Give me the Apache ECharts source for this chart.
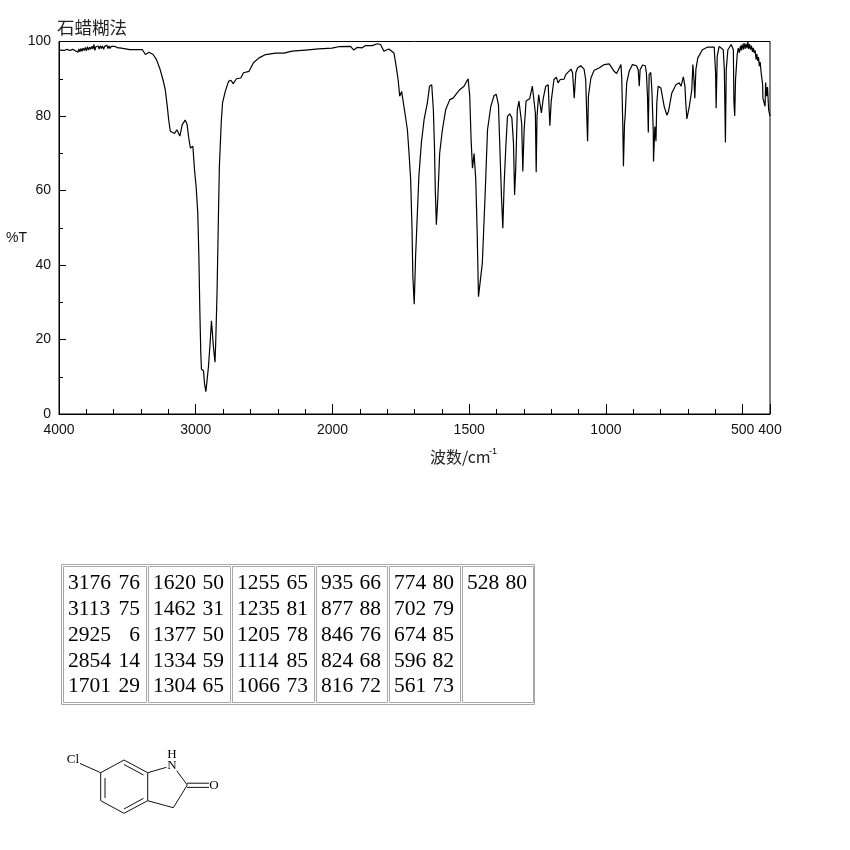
<!DOCTYPE html>
<html>
<head>
<meta charset="utf-8">
<style>html,body{margin:0;padding:0;background:#fff}#c{width:850px;height:850px}</style>
<script src="https://cdn.jsdelivr.net/npm/echarts@6/dist/echarts.min.js"></script>
</head>
<body>
<div id="c"></div>
<script>
// wavenumbers (cm-1)
const wavenumbers = [4000,3960,3942,3920,3900,3880,3870,3862,3855,3848,3840,3832,3824,3816,3808,3800,3792,3784,3776,3768,3760,3752,3744,3738,3730,3722,3714,3706,3698,3690,3682,3674,3666,3658,3650,3642,3634,3626,3618,3610,3602,3594,3586,3570,3555,3482,3390,3368,3341,3312,3288,3264,3240,3223,3208,3198,3186,3172,3155,3138,3116,3099,3077,3063,3051,3039,3021,3009,2997,2985,2977,2970,2963,2958,2943,2936,2926,2917,2907,2895,2885,2878,2871,2859,2854,2844,2834,2827,2813,2804,2784,2760,2743,2726,2702,2670,2651,2610,2578,2537,2489,2416,2355,2295,2198,2101,2004,1977,1934,1922,1910,1891,1879,1855,1836,1824,1812,1794,1775,1767,1760,1754,1747,1741,1735,1726,1720,1714,1709,1706,1701,1696,1691,1684,1675,1665,1653,1645,1637,1631,1627,1624,1620,1615,1608,1598,1586,1571,1559,1537,1519,1504,1498,1493,1488,1482,1476,1471,1466,1460,1452,1442,1433,1421,1409,1401,1393,1386,1382,1377,1372,1366,1360,1352,1344,1338,1334,1330,1324,1318,1311,1308,1304,1299,1292,1279,1269,1263,1258,1255,1252,1246,1241,1236,1229,1220,1211,1208,1205,1200,1190,1181,1175,1167,1153,1147,1128,1122,1116,1110,1104,1092,1080,1074,1070,1067,1064,1055,1043,1025,1006,988,970,964,961,945,942,938,936,932,930,924,915,903,888,882,878,875,866,856,852,848,845,842,836,832,827,826,821,817,814,809,799,787,777,771,759,744,732,725,717,711,708,704,695,686,682,678,675,671,664,647,628,604,599,597,593,586,580,571,567,563,560,554,542,534,532,529,526,520,516,512,508,505,502,498,495,491,488,484,481,478,475,471,468,464,461,457,454,451,448,445,442,439,436,433,430,427,426,421,418,416,412,409,405,400];
// percent transmittance at each wavenumber
const transmittance = [97.7,97.6,97.9,97.6,97.9,97.5,97.8,97.1,98,97.2,98.1,97.4,98.2,97.6,98.4,97.5,98.6,97.7,98.5,97.9,98.7,98,99.2,97.6,98.6,98.2,98.8,98,98.9,98.1,98.8,97.9,98.7,98.2,99,98.1,98.8,98.1,98.7,98.2,98.7,98.3,98.6,98.3,98.3,97.8,97.8,96.5,97.1,96.5,95.2,92.9,89.8,87.1,82.6,79,75.9,76.2,75.3,76.3,74.6,77.7,78.9,77.7,74.1,71.4,71.9,65.6,61,53.9,42.3,27.9,16.3,12,11.6,8.2,6,9.1,12.7,19,25,21.7,18.1,13.9,19,32.9,53,66.5,78.6,83.5,86.6,89.3,89.6,88.7,90,90.2,91.6,92,94.3,95.6,96.5,96.9,96.9,97.4,97.7,98,98.2,98.6,98.7,97.7,98.4,98.3,98.9,98.9,99.4,99.2,97.4,98,96.9,93.3,89.8,85.3,86.6,86.2,80.8,76.3,70,62.9,49.4,36.9,29.5,42.3,51.2,63.8,72.7,79,83.5,88,88.4,81.7,71.8,60.2,50.8,57.5,70,76.3,81.7,84.4,84.8,86.9,88,90,85.3,73.6,66,69.9,62.9,49.4,31.5,31,40.5,58.4,76.3,82.6,85.5,85.8,83,67.4,58.4,49.9,62,71.8,79.9,80.6,79.5,72.7,58.8,65.6,81.7,84,84,78,65.1,76.3,84,84.6,88,88.4,80.8,64.9,79.9,85.7,85.3,80.8,84.8,88,88.4,82.6,77.4,84,89.8,90.4,88.9,89.8,89.9,91.1,92.6,91.6,84.8,91.6,92.9,93.5,92.6,89.8,79.9,73.2,85.3,90.2,92.3,92.9,93.8,94,92,91.6,91.4,93.8,89.8,76.3,66.5,78,79.7,88.9,92,93.8,93.5,92.4,88,92.4,93.7,93.5,91.6,85.3,75.6,91.1,91.7,87,76.3,67.8,77.2,73.2,83.5,88,87.5,82.6,80.2,81.3,86.2,88.4,88.9,88,90.5,88,83.5,79.2,82.6,87,93.8,89.8,84.8,92.5,95.6,97.8,98.5,98.5,91.6,82.1,96,98.7,99.2,97.8,92.5,72.9,92.5,97.8,99.2,97.8,84,80,89.8,96.5,98.2,97,98.8,97.6,99.2,97.8,99.6,98,99.4,98.2,99.9,98,99.3,97.8,98.9,97.2,98.3,96.9,97.6,95.2,96.6,94.8,95.8,93.4,94.5,92,91.5,88.5,84.8,84.8,82.6,89,85.3,87.8,81.7,80];
// axis tick labels
const xTickLabels = {0:'4000',1000:'3000',2000:'2000',3000:'1500',4000:'1000',5000:'500',5200:'400'};
const yTicks = [0,20,40,60,80,100];
// peak table: each column is [wavenumber, %T] rows
const peakCol1 = [['3176','76'],['3113','75'],['2925','6'],['2854','14'],['1701','29']];
const peakCol2 = [['1620','50'],['1462','31'],['1377','50'],['1334','59'],['1304','65']];
const peakCol3 = [['1255','65'],['1235','81'],['1205','78'],['1114','85'],['1066','73']];
const peakCol4 = [['935','66'],['877','88'],['846','76'],['824','68'],['816','72']];
const peakCol5 = [['774','80'],['702','79'],['674','85'],['596','82'],['561','73']];
const peakCol6 = [['528','80']];

// The instrument's x axis doubles its scale below 2000 cm-1
const toAxis = w => w >= 2000 ? 4000 - w : 2000 + (2000 - w) * 2;

const black = '#000';
const tableGray = '#a8a8a8';
const cols = [
  {rows:peakCol1,x0:63,x1:146},
  {rows:peakCol2,x0:148,x1:230},
  {rows:peakCol3,x0:232,x1:314},
  {rows:peakCol4,x0:316,x1:387},
  {rows:peakCol5,x0:389,x1:460},
  {rows:peakCol6,x0:462,x1:533}
];
const rowCenters = [583,609,635,661,686];
const g = [];
const line = (x1,y1,x2,y2,w) => g.push({type:'line',silent:true,shape:{x1,y1,x2,y2},style:{stroke:'#111',lineWidth:w||1}});
const txt = (x,y,t,o) => g.push({type:'text',silent:true,x,y,style:Object.assign({text:t,fill:'#000',verticalAlign:'middle'},o)});

// table
g.push({type:'rect',silent:true,shape:{x:61.5,y:564.5,width:473,height:140},style:{fill:'#fff',stroke:tableGray,lineWidth:1}});
cols.forEach(c=>{
  g.push({type:'rect',silent:true,shape:{x:c.x0+.5,y:566.5,width:c.x1-c.x0,height:136},style:{fill:'#fff',stroke:tableGray,lineWidth:1}});
  c.rows.forEach((r,i)=>{
    txt(c.x0+5,rowCenters[i],r[0],{font:'21.5px "Liberation Serif"',align:'left'});
    txt(c.x1-6,rowCenters[i],r[1],{font:'21.5px "Liberation Serif"',align:'right'});
  });
});
// molecule
const a={l1:[100.7,772.7],t:[124,760],r1:[147.7,772.7],r2:[147.7,800.7],b:[124,813.3],l2:[100.7,800.7]};
[[a.l1,a.t],[a.t,a.r1],[a.r1,a.r2],[a.r2,a.b],[a.b,a.l2],[a.l2,a.l1]].forEach(p=>line(p[0][0],p[0][1],p[1][0],p[1][1]));
line(105,778,105,798);line(124,764.5,143.5,775);line(124,809,143.5,798.3);
line(80,763.5,100.7,772.7);
line(147.7,772.7,166.5,767.3);line(176.7,770.7,187.3,785);line(187.3,785,173.3,807.7);line(173.3,807.7,147.7,800.7);
line(187,783.2,209,783.2);line(187,787.4,209,787.4);
const atom='13px "Liberation Serif"';
txt(73,759.5,'Cl',{font:atom,align:'center'});
txt(172,765.5,'N',{font:atom,align:'center'});
txt(172,755,'H',{font:atom,align:'center'});
txt(214,786,'O',{font:atom,align:'center'});
// titles
const cjk='"Noto Sans CJK SC"';
const sans='"Liberation Sans"';
txt(57,27,'石蜡糊法',{font:'17.5px '+cjk,align:'left',fill:'#222'});
txt(430,457,'波数/cm',{font:'16px '+cjk,align:'left',fill:'#222'});
txt(489,452,'-1',{font:'9px '+sans,align:'left'});
txt(6,238,'%T',{font:'14px '+sans,align:'left',fill:'#111'});

const chart = echarts.init(document.getElementById('c'),null,{renderer:'canvas'});
chart.setOption({
  animation:false,
  backgroundColor:'#fff',
  grid:{left:59,top:41.5,width:711,height:372.5,show:true,borderColor:black,borderWidth:1,backgroundColor:'transparent',containLabel:false},
  xAxis:{type:'value',min:0,max:5200,interval:1000,
    axisLine:{show:true,onZero:false,lineStyle:{color:black,width:1}},
    axisTick:{show:true,inside:true,length:10,lineStyle:{color:black}},
    minorTick:{show:true,splitNumber:5,length:5,lineStyle:{color:black}},
    splitLine:{show:false},minorSplitLine:{show:false},
    axisLabel:{show:true,showMinLabel:true,showMaxLabel:true,hideOverlap:false,margin:9,color:'#111',fontFamily:sans,fontSize:14,formatter:v=>xTickLabels[v]||''}
  },
  yAxis:{type:'value',min:0,max:100,interval:20,
    axisLine:{show:true,lineStyle:{color:black,width:1}},
    axisTick:{show:true,inside:true,length:7,lineStyle:{color:black}},
    minorTick:{show:true,splitNumber:2,length:4,lineStyle:{color:black}},
    splitLine:{show:false},
    axisLabel:{margin:8,color:'#111',fontFamily:sans,fontSize:14,formatter:v=>yTicks.includes(v)?String(v):''}
  },
  series:[{type:'line',showSymbol:false,symbol:'none',smooth:false,clip:true,
    lineStyle:{color:black,width:1.2},
    data:wavenumbers.map((w,i)=>[toAxis(w),transmittance[i]])}],
  graphic:g
});
</script>
</body>
</html>
